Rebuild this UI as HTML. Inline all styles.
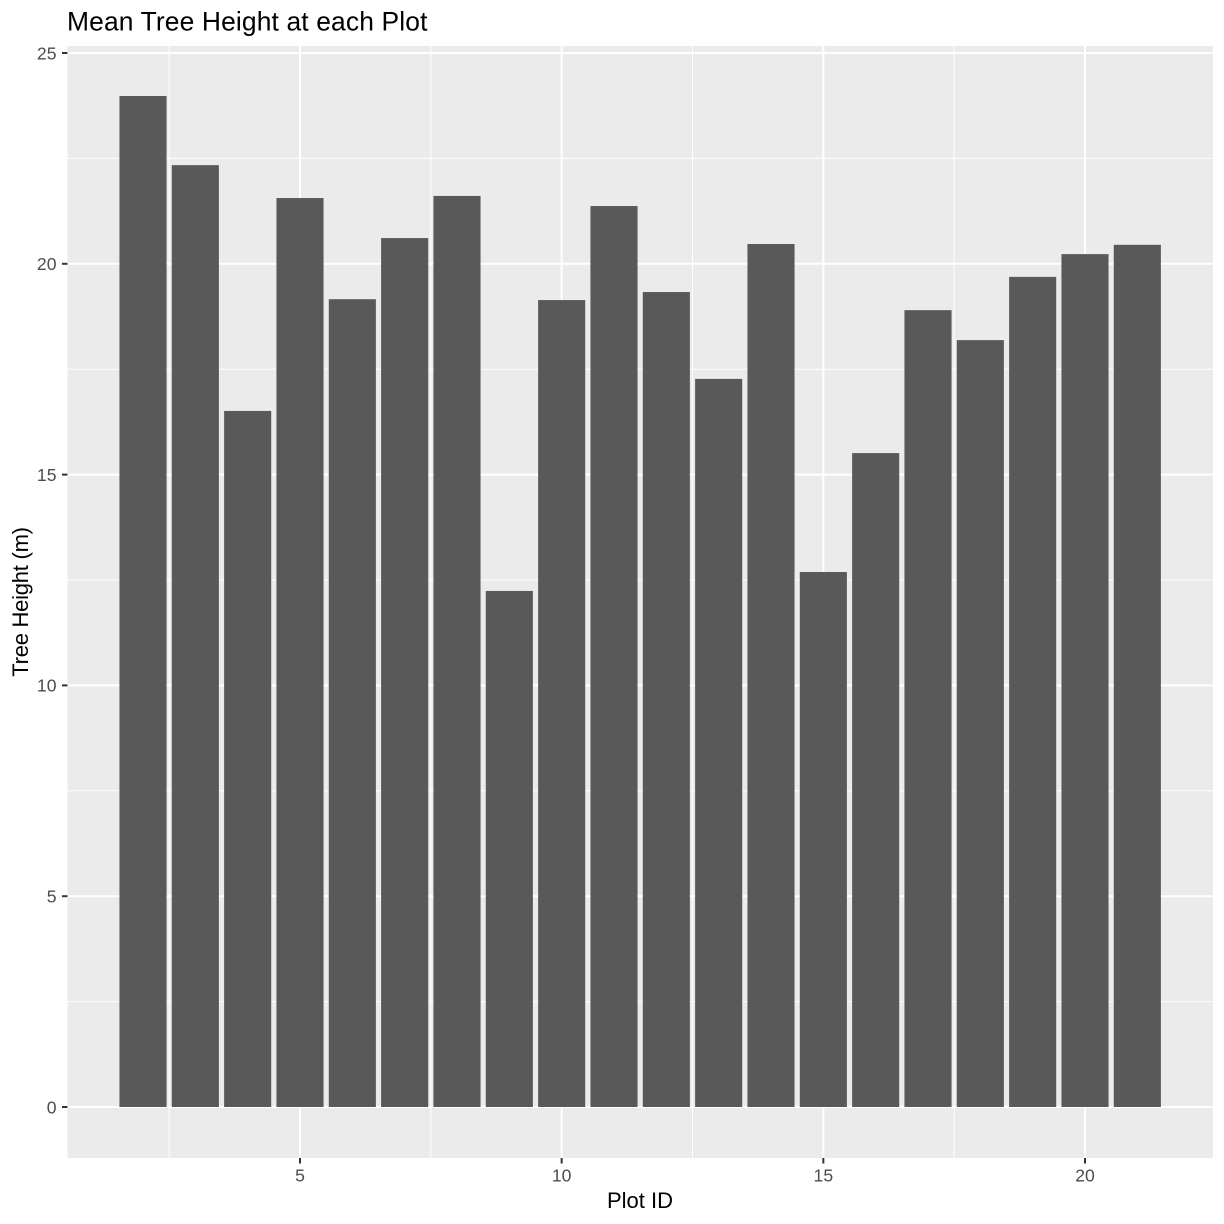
<!DOCTYPE html>
<html>
<head>
<meta charset="utf-8">
<style>
html,body{margin:0;padding:0;background:#fff;width:1224px;height:1224px;overflow:hidden}
svg{display:block}
text{font-family:"Liberation Sans",sans-serif}
</style>
</head>
<body>
<svg id="chart" xmlns="http://www.w3.org/2000/svg" width="1224" height="1224" viewBox="0 0 1224 1224">
<rect x="0" y="0" width="1224" height="1224" fill="#fff"/>
<rect x="67.5" y="46" width="1145.5" height="1112" fill="#ebebeb"/>
<g id="grid"></g>
<g id="bars"></g>
<g id="axes"></g>
<text x="67" y="30.5" font-size="26.4" letter-spacing="0.14" fill="#000">Mean Tree Height at each Plot</text>
<text x="640" y="1208" font-size="22" fill="#000" text-anchor="middle">Plot ID</text>
<text transform="translate(28,602) rotate(-90)" font-size="22" letter-spacing="-0.25" fill="#000" text-anchor="middle">Tree Height (m)</text>
</svg>
<script>
const plotIds = [2,3,4,5,6,7,8,9,10,11,12,13,14,15,16,17,18,19,20,21];
const meanHeights = [23.98,22.34,16.51,21.56,19.16,20.61,21.61,12.24,19.14,21.37,19.33,17.27,20.47,12.69,15.51,18.90,18.19,19.69,20.23,20.45];
const xTicks = [5,10,15,20];
const xMinorTicks = [2.5,7.5,12.5,17.5];
const yTicks = [0,5,10,15,20,25];
const yMinorTicks = [2.5,7.5,12.5,17.5,22.5];

const NS = 'http://www.w3.org/2000/svg';
const panelLeft = 67.5, panelRight = 1213, panelTop = 46, panelBottom = 1158;
const barWidthUnits = 0.9;

function xScale(v){ return 300 + (v - 5) * (1085 - 300) / 15; }
function yScale(v){ return 1107 - v * (1107 - 53) / 25; }

function make(tag, parent){
  const el = document.createElementNS(NS, tag);
  parent.appendChild(el);
  return el;
}
function setLine(el, x1, y1, x2, y2, stroke, width){
  el.setAttribute('x1', x1);
  el.setAttribute('y1', y1);
  el.setAttribute('x2', x2);
  el.setAttribute('y2', y2);
  el.setAttribute('stroke', stroke);
  el.setAttribute('stroke-width', width);
}

const grid = document.getElementById('grid');
const bars = document.getElementById('bars');
const axes = document.getElementById('axes');

yMinorTicks.forEach(function(v){
  const l = make('line', grid);
  setLine(l, panelLeft, yScale(v), panelRight, yScale(v), '#fff', 1);
  
  
});
xMinorTicks.forEach(function(v){
  const l = make('line', grid);
  setLine(l, xScale(v), panelTop, xScale(v), panelBottom, '#fff', 1);
  
  
});
yTicks.forEach(function(v){
  const l = make('line', grid);
  setLine(l, panelLeft, yScale(v), panelRight, yScale(v), '#fff', 2);
  
  
});
xTicks.forEach(function(v){
  const l = make('line', grid);
  setLine(l, xScale(v), panelTop, xScale(v), panelBottom, '#fff', 2);
  
  
});

plotIds.forEach(function(id, i){
  const r = make('rect', bars);
  const halfWidth = barWidthUnits / 2;
  r.setAttribute('x', xScale(id - halfWidth));
  r.setAttribute('y', yScale(meanHeights[i]));
  r.setAttribute('width', xScale(id + halfWidth) - xScale(id - halfWidth));
  r.setAttribute('height', yScale(0) - yScale(meanHeights[i]));
  r.setAttribute('fill', '#595959');
  
  
});

xTicks.forEach(function(v){
  const t = make('line', axes);
  setLine(t, xScale(v), panelBottom, xScale(v), panelBottom + 5.5, '#333', 2);
  
  
  const s = make('text', axes);
  s.setAttribute('x', xScale(v));
  s.setAttribute('y', 1181.5);
  s.setAttribute('font-size', '17.6');
  s.setAttribute('fill', '#4d4d4d');
  s.setAttribute('text-anchor', 'middle');
  s.textContent = String(v);
  
  
});
yTicks.forEach(function(v){
  const t = make('line', axes);
  setLine(t, panelLeft - 5.5, yScale(v), panelLeft, yScale(v), '#333', 2);
  
  
  const s = make('text', axes);
  s.setAttribute('x', 56.5);
  s.setAttribute('y', yScale(v) + 6.3);
  s.setAttribute('font-size', '17.6');
  s.setAttribute('fill', '#4d4d4d');
  s.setAttribute('text-anchor', 'end');
  s.textContent = String(v);
  
  
});
</script>
</body>
</html>
